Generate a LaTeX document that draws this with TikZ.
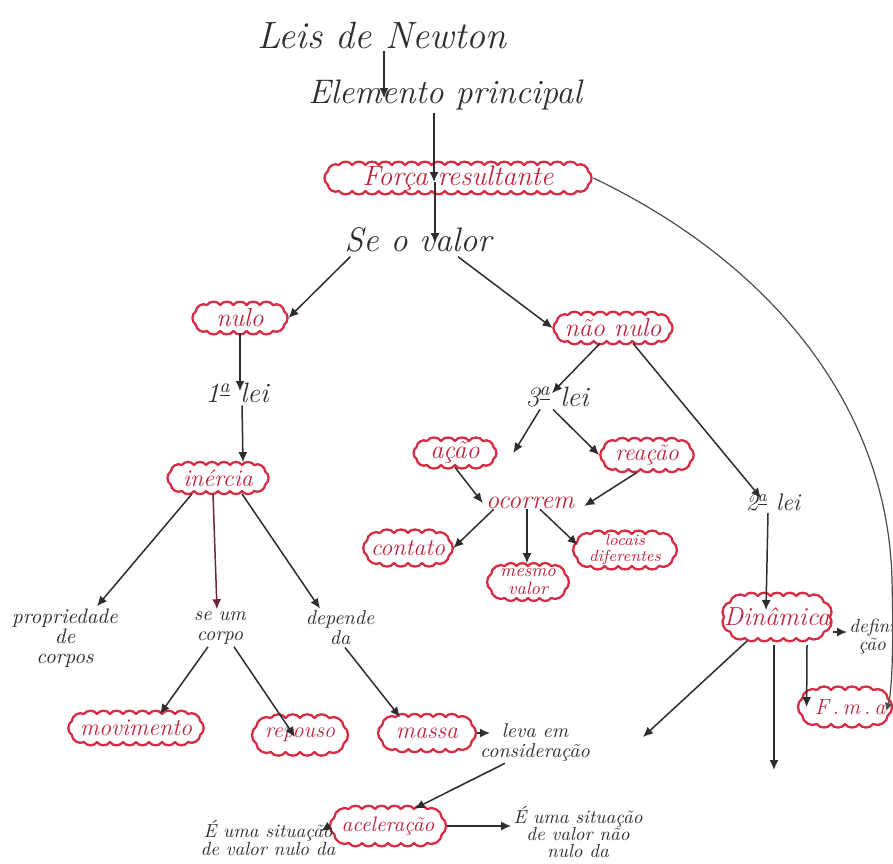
\documentclass[tikz,border=0pt]{standalone}
\usetikzlibrary{shapes.misc,arrows.meta,calc}
\definecolor{cred}{RGB}{215,45,68}
\definecolor{ctxt}{RGB}{190,35,60}
\definecolor{ink}{RGB}{45,45,45}
\definecolor{maroonline}{RGB}{110,40,60}
\newcommand\hw[2]{\fontsize{#1pt}{#2pt}\selectfont\itshape}
% scalloped cloud: centre x, centre y, half width, half height, puffs per long side, puffs per end
\newcommand\cloudpath[6]{%
 \draw[cloudline] ({#1-(#3-#4)},{#2-#4})
  \foreach \k in {1,...,#5}{ to[bend left=60] ({#1-(#3-#4)+2*(#3-#4)*\k/#5},{#2-#4}) }
  \foreach \k in {1,...,#6}{ to[bend left=60] ({#1+(#3-#4)+#4*cos(-90+180*\k/#6)},{#2+#4*sin(-90+180*\k/#6)}) }
  \foreach \k in {1,...,#5}{ to[bend left=60] ({#1+(#3-#4)-2*(#3-#4)*\k/#5},{#2+#4}) }
  \foreach \k in {1,...,#6}{ to[bend left=60] ({#1-(#3-#4)+#4*cos(90+180*\k/#6)},{#2+#4*sin(90+180*\k/#6)}) };
}
\tikzset{
  cloudline/.style={draw=cred, line width=1.15pt, line join=round},
  cl/.style={rounded rectangle, inner sep=0pt, draw=none},
  lab/.style={inner sep=1pt, text=ink, align=center},
  clab/.style={inner sep=0pt, text=ctxt, align=center},
  arr/.style={draw=ink, line width=0.75pt, -{Latex[length=5pt,width=4.5pt]}},
  arrdr/.style={arr, draw=maroonline},
  curv/.style={draw=ink!85, line width=0.6pt, -{Latex[length=4pt,width=4pt]}}
}
\begin{document}
\begin{tikzpicture}[x=0.5pt,y=-0.5pt]
\useasboundingbox (0,0) rectangle (893,863);
\clip (0,0) rectangle (893,863);
\fill[white] (0,0) rectangle (893,863);

% ---- cloud outlines
\cloudpath{458}{178}{132}{13}{18}{3}
\cloudpath{240}{318}{46}{13}{5}{3}
\cloudpath{613}{328}{58}{13}{7}{3}
\cloudpath{218}{478}{49}{13}{6}{3}
\cloudpath{455}{453}{40}{12}{4}{3}
\cloudpath{647}{455}{45}{14}{5}{3}
\cloudpath{408}{548}{43}{15}{4}{3}
\cloudpath{528}{582}{39}{16}{4}{3}
\cloudpath{625}{550}{50}{16}{5}{3}
\cloudpath{777}{617}{53}{21}{5}{4}
\cloudpath{845}{707}{45}{17}{4}{3}
\cloudpath{136}{728}{66}{14}{8}{3}
\cloudpath{300}{735}{46}{17}{4}{3}
\cloudpath{427}{733}{47}{16}{5}{3}
\cloudpath{388}{826}{56}{17}{6}{3}

% ---- nodes
\node[lab,font=\hw{19}{21}] (leis) at (382,35) {Leis de Newton};
\node[lab,font=\hw{17}{19}] (elem) at (445,95) {Elemento principal};
\node[cl,minimum width=135pt,minimum height=16pt] (forca) at (458,178) {};
\node[clab,font=\hw{14}{15}] at (forca) {Força resultante};
\node[lab,font=\hw{17}{19}] (seo) at (418,240) {Se o valor};
\node[cl,minimum width=48pt,minimum height=15pt] (nulo) at (240,318) {};
\node[clab,font=\hw{13}{14}] at (nulo) {nulo};
\node[cl,minimum width=60pt,minimum height=15pt] (naonulo) at (613,328) {};
\node[clab,font=\hw{13}{14}] at (naonulo) {não nulo};
\node[lab,font=\hw{14}{15}] (lei1) at (237,393) {1\textsuperscript{\underline{a}} lei};
\node[lab,font=\hw{14}{15}] (lei3) at (557,397) {3\textsuperscript{\underline{a}} lei};
\node[lab,font=\hw{12}{13}] (lei2) at (773,502) {2\textsuperscript{\underline{a}} lei};
\node[cl,minimum width=51.5pt,minimum height=15.5pt] (inercia) at (218,478) {};
\node[clab,font=\hw{12}{13}] at (inercia) {inércia};
\node[cl,minimum width=42pt,minimum height=14pt] (acao) at (455,453) {};
\node[clab,font=\hw{13}{14}] at (acao) {ação};
\node[cl,minimum width=47.5pt,minimum height=17pt] (reacao) at (647,455) {};
\node[clab,font=\hw{12}{13}] at (reacao) {reação};
\node[clab,font=\hw{13}{14}] (ocorrem) at (530,503) {ocorrem};
\node[cl,minimum width=45pt,minimum height=18.5pt] (contato) at (408,548) {};
\node[clab,font=\hw{12}{13}] at (contato) {contato};
\node[cl,minimum width=41.5pt,minimum height=18.5pt] (mesmo) at (528,582) {};
\node[clab,font=\hw{9}{9}] at (mesmo) {mesmo\\valor};
\node[cl,minimum width=52pt,minimum height=19pt] (locais) at (625,550) {};
\node[clab,font=\hw{8}{8}] at (locais) {locais\\diferentes};
\node[cl,minimum width=55.5pt,minimum height=24pt] (dinamica) at (777,617) {};
\node[clab,font=\hw{13}{14}] at (dinamica) {Dinâmica};
\node[cl,minimum width=47pt,minimum height=20pt] (fma) at (845,707) {};
\node[clab,font=\hw{11}{12}] at (850,707) {F\,.\,m\,.\,a};
\node[lab,font=\hw{9.5}{9},anchor=west] (defin) at (847,637) {defini\\ção};
\node[lab,font=\hw{10.5}{10}] (prop) at (65,638) {propriedade\\de\\corpos};
\node[lab,font=\hw{10}{10}] (seum) at (220,628) {se um\\corpo};
\node[lab,font=\hw{10}{10}] (depende) at (340,628) {depende\\da};
\node[cl,minimum width=69pt,minimum height=16.5pt] (mov) at (136,728) {};
\node[clab,font=\hw{12}{13}] at (mov) {movimento};
\node[cl,minimum width=49pt,minimum height=20pt] (repouso) at (300,735) {};
\node[clab,font=\hw{11}{12}] at (repouso) {repouso};
\node[cl,minimum width=50pt,minimum height=18.5pt] (massa) at (427,733) {};
\node[clab,font=\hw{12}{13}] at (massa) {massa};
\node[lab,font=\hw{10}{10}] (leva) at (535,742) {leva em\\consideração};
\node[cl,minimum width=58.5pt,minimum height=20pt] (acel) at (388,826) {};
\node[clab,font=\hw{10.5}{11}] at (acel) {aceleração};
\node[lab,font=\hw{9.5}{9}] (ltext) at (268,838) {É uma situação\\de valor nulo da};
\node[lab,font=\hw{9.5}{8.5}] (rtext) at (578,832) {É uma situação\\de valor não\\nulo da};

\coordinate (levatip) at (490,733);
\coordinate (free1) at (643,737);
\coordinate (free2) at (774,770);

% ---- connectors
\draw[arr] ($(leis.south)+(2,0)$) -- ($(elem.center)+(-61,3)$);
\draw[arr] ($(elem.south)+(-11,0)$) -- ($(forca.center)+(-24,4)$);
\draw[arr] ($(forca.center)+(-23,4)$) -- ($(seo.center)+(17,3)$);
\draw[arr] ($(seo.south west)+(8,2)$) -- (nulo.east);
\draw[arr] ($(seo.south)+(40,2)$) -- (naonulo.west);
\draw[arr] (nulo.south) -- ($(lei1.center)+(3,-2)$);
\draw[arr] ($(lei1.south)+(5,0)$) -- ($(inercia.north)+(25,0)$);
\draw[arr] ($(inercia.south west)+(10,0)$) -- ($(prop.north)+(32,0)$);
\draw[arrdr] ($(inercia.south)+(-5,0)$) -- ($(seum.north)+(-3,0)$);
\draw[arr] ($(inercia.south east)+(-12,0)$) -- ($(depende.north)+(-20,0)$);
\draw[arr] ($(seum.south)+(-12,0)$) -- ($(mov.north)+(24,3)$);
\draw[arr] ($(seum.south)+(14,0)$) -- ($(repouso.center)+(-5,2)$);
\draw[arr] ($(depende.south)+(5,0)$) -- ($(massa.north)+(-27,3)$);
\draw[arr] (massa.east) -- (levatip);
\draw[arr] ($(leva.south)+(-30,0)$) -- ($(acel.north east)+(-12,3)$);
\draw[arr] (acel.west) -- ($(acel.west)+(-8,5)$);
\draw[arr] (acel.east) -- (acel.east -| rtext.west);
\draw[arr] ($(naonulo.south)+(-13,0)$) -- ($(lei3.center)+(-5,-4)$);
\draw[arr] ($(naonulo.south east)+(-25,0)$) -- ($(lei2.center)+(-12,-4)$);
\draw[arr] ($(lei3.south)+(-17,0)$) -- ($(acao.east)+(16,0)$);
\draw[arr] ($(lei3.south)+(-4,0)$) -- (reacao.west);
\draw[arr] (acao.south) -- ($(ocorrem.west)+(-3,0)$);
\draw[arr] ($(reacao.south)+(-10,0)$) -- ($(ocorrem.east)+(10,3)$);
\draw[arr] ($(ocorrem.south west)+(8,0)$) -- (contato.east);
\draw[arr] ($(ocorrem.south)+(-3,0)$) -- ($(mesmo.north)+(-1,0)$);
\draw[arr] ($(ocorrem.south)+(10,0)$) -- ($(locais.west)+(5,-5)$);
\draw[arr] ($(lei2.south)+(-5,0)$) -- ($(dinamica.center)+(-11,-7)$);
\draw[arr] ($(dinamica.center)+(56,15)$) -- ($(defin.west)+(0,-5)$);
\draw[arr] ($(dinamica.center)+(30,28)$) -- ($(fma.west)+(9,0)$);
\draw[arr] ($(dinamica.center)+(-30,24)$) -- (free1);
\draw[arr] ($(dinamica.center)+(-3,28)$) -- (free2);
\draw[curv] (forca.east) .. controls (775,265) and (888,410) .. (892,580)
  .. controls (894,660) and (891,695) .. ($(fma.east)+(-6,4)$);
\end{tikzpicture}
\end{document}
